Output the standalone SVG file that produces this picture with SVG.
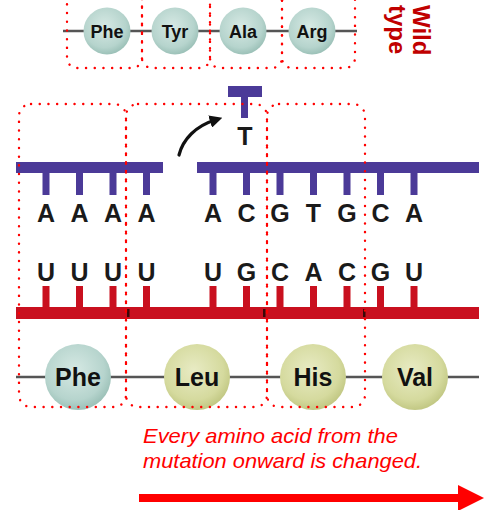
<svg xmlns="http://www.w3.org/2000/svg" width="499" height="510" viewBox="0 0 499 510">
<defs>
<radialGradient id="gTeal" cx="0.45" cy="0.4" r="0.6">
<stop offset="0" stop-color="#d6e9e4"/><stop offset="0.75" stop-color="#b6d4cd"/><stop offset="1" stop-color="#9cc1b8"/>
</radialGradient>
<radialGradient id="gOlive" cx="0.45" cy="0.4" r="0.6">
<stop offset="0" stop-color="#e8ebc4"/><stop offset="0.75" stop-color="#d5da9e"/><stop offset="1" stop-color="#c2c884"/>
</radialGradient>
<marker id="ah" viewBox="0 0 10 10" refX="4" refY="5" markerWidth="4" markerHeight="4" orient="auto" markerUnits="strokeWidth">
<path d="M0,0 L10,5 L0,10 z" fill="#111"/>
</marker>
<style>
.box{fill:none;stroke:#ff0000;stroke-width:2.4;stroke-dasharray:0.1 8.6;stroke-linecap:round}
.chain{stroke:#555;stroke-width:2.5}
.aaS{font-family:"Liberation Sans",Arial,sans-serif;font-weight:bold;font-size:18px;fill:#111;text-anchor:middle}
.aaL{font-family:"Liberation Sans",Arial,sans-serif;font-weight:bold;font-size:25px;fill:#111;text-anchor:middle}
.nt{font-family:"Liberation Sans",Arial,sans-serif;font-weight:bold;font-size:25px;fill:#1a1a1a;text-anchor:middle}
.dna{fill:#4b3a98}
.rna{fill:#c9101f}
.wt{font-family:"Liberation Sans",Arial,sans-serif;font-weight:bold;font-size:24px;fill:#c00000}
.note{font-family:"Liberation Sans",Arial,sans-serif;font-style:italic;font-size:21px;fill:#ff0000}
</style>
</defs>

<!-- top wild-type row -->
<line class="chain" x1="63" y1="31" x2="357" y2="31"/>
<g id="wt-phe"><circle cx="107" cy="31" r="23.5" fill="url(#gTeal)"/><text class="aaS" x="107" y="37.5">Phe</text></g>
<g id="wt-tyr"><circle cx="175" cy="31" r="23.5" fill="url(#gTeal)"/><text class="aaS" x="175" y="37.5">Tyr</text></g>
<g id="wt-ala"><circle cx="243" cy="31" r="23.5" fill="url(#gTeal)"/><text class="aaS" x="243" y="37.5">Ala</text></g>
<g id="wt-arg"><circle cx="312" cy="31" r="23.5" fill="url(#gTeal)"/><text class="aaS" x="312" y="37.5">Arg</text></g>
<g id="wt-boxes">
<rect class="box" x="67" y="-20" width="75" height="88" rx="10"/>
<rect class="box" x="142" y="-20" width="68" height="88" rx="10"/>
<rect class="box" x="210" y="-20" width="72" height="88" rx="10"/>
<rect class="box" x="282" y="-20" width="73" height="88" rx="10"/>
</g>
<g id="wild-type-label">
<text class="wt" transform="translate(413,5) rotate(90)">Wild</text>
<text class="wt" transform="translate(389,5) rotate(90)">type</text>
</g>

<!-- inserted T -->
<g id="inserted-T">
<rect class="dna" x="228" y="86" width="34" height="11"/>
<rect class="dna" x="241" y="96" width="7" height="22"/>
<text class="nt" x="245" y="145">T</text>
</g>

<g id="connectors">
<path d="M179,155 C183,139 196,126 215,120" fill="none" stroke="#111" stroke-width="3.2" stroke-linecap="round" marker-end="url(#ah)"/>
</g>

<!-- DNA strand -->
<g id="dna-strand">
<rect class="dna" x="16" y="162" width="147" height="11"/>
<rect class="dna" x="197" y="162" width="282" height="11"/>
<rect class="dna" x="42.5" y="172" width="7" height="23"/>
<rect class="dna" x="76" y="172" width="7" height="23"/>
<rect class="dna" x="109.5" y="172" width="7" height="23"/>
<rect class="dna" x="143" y="172" width="7" height="23"/>
<rect class="dna" x="209.5" y="172" width="7" height="23"/>
<rect class="dna" x="243" y="172" width="7" height="23"/>
<rect class="dna" x="276.5" y="172" width="7" height="23"/>
<rect class="dna" x="310" y="172" width="7" height="23"/>
<rect class="dna" x="343.5" y="172" width="7" height="23"/>
<rect class="dna" x="377" y="172" width="7" height="23"/>
<rect class="dna" x="410.5" y="172" width="7" height="23"/>
<text class="nt" x="46" y="222">A</text>
<text class="nt" x="79.5" y="222">A</text>
<text class="nt" x="113" y="222">A</text>
<text class="nt" x="146.5" y="222">A</text>
<text class="nt" x="213" y="222">A</text>
<text class="nt" x="246.5" y="222">C</text>
<text class="nt" x="280" y="222">G</text>
<text class="nt" x="313.5" y="222">T</text>
<text class="nt" x="347" y="222">G</text>
<text class="nt" x="380.5" y="222">C</text>
<text class="nt" x="414" y="222">A</text>
</g>

<!-- mRNA strand -->
<g id="mrna-strand">
<text class="nt" x="46" y="281">U</text>
<text class="nt" x="79.5" y="281">U</text>
<text class="nt" x="113" y="281">U</text>
<text class="nt" x="146.5" y="281">U</text>
<text class="nt" x="213" y="281">U</text>
<text class="nt" x="246.5" y="281">G</text>
<text class="nt" x="280" y="281">C</text>
<text class="nt" x="313.5" y="281">A</text>
<text class="nt" x="347" y="281">C</text>
<text class="nt" x="380.5" y="281">G</text>
<text class="nt" x="414" y="281">U</text>
<rect class="rna" x="42.5" y="286" width="7" height="22"/>
<rect class="rna" x="76" y="286" width="7" height="22"/>
<rect class="rna" x="109.5" y="286" width="7" height="22"/>
<rect class="rna" x="143" y="286" width="7" height="22"/>
<rect class="rna" x="209.5" y="286" width="7" height="22"/>
<rect class="rna" x="243" y="286" width="7" height="22"/>
<rect class="rna" x="276.5" y="286" width="7" height="22"/>
<rect class="rna" x="310" y="286" width="7" height="22"/>
<rect class="rna" x="343.5" y="286" width="7" height="22"/>
<rect class="rna" x="377" y="286" width="7" height="22"/>
<rect class="rna" x="410.5" y="286" width="7" height="22"/>
<rect class="rna" x="16" y="307" width="463" height="12"/>
<rect x="127" y="309" width="2.5" height="8" fill="#3a0808"/>
<rect x="263" y="309" width="2.5" height="8" fill="#3a0808"/>
<rect x="363" y="309" width="2.5" height="8" fill="#3a0808"/>
</g>

<!-- mutant polypeptide -->
<line class="chain" x1="16" y1="377" x2="479" y2="377"/>
<g id="mut-phe"><circle cx="78" cy="377" r="33" fill="url(#gTeal)"/><text class="aaL" x="78" y="386">Phe</text></g>
<g id="mut-leu"><circle cx="197" cy="377" r="33" fill="url(#gOlive)"/><text class="aaL" x="197" y="386">Leu</text></g>
<g id="mut-his"><circle cx="313" cy="377" r="33" fill="url(#gOlive)"/><text class="aaL" x="313" y="386">His</text></g>
<g id="mut-val"><circle cx="415" cy="377" r="33" fill="url(#gOlive)"/><text class="aaL" x="415" y="386">Val</text></g>

<!-- codon boxes (drawn on top) -->
<g id="codon-boxes">
<rect class="box" x="19" y="104" width="107" height="303" rx="12"/>
<rect class="box" x="126" y="104" width="141" height="303" rx="12"/>
<rect class="box" x="267" y="104" width="98" height="303" rx="12"/>
</g>

<g id="note">
<text class="note" x="143" y="443" textLength="255" lengthAdjust="spacingAndGlyphs">Every amino acid from the</text>
<text class="note" x="143" y="468" textLength="279" lengthAdjust="spacingAndGlyphs">mutation onward is changed.</text>
</g>
<g id="direction-arrow">
<rect x="139" y="494" width="320" height="8" fill="#ff0000"/>
<polygon points="458,485 484,498 458,511" fill="#ff0000"/>
</g>
</svg>
